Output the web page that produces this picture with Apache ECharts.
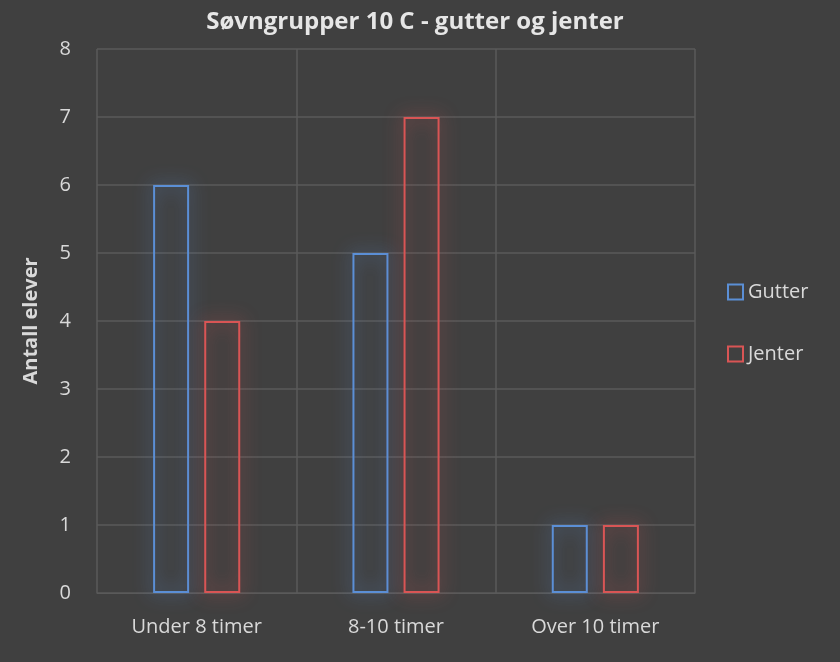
<!DOCTYPE html>
<html><head><meta charset="utf-8">
<script src="https://cdn.jsdelivr.net/npm/echarts@6/dist/echarts.min.js"></script>
<style>html,body{margin:0;background:#2b2b2b}#c{width:840px;height:662px;background:#404040;border-radius:0 12px 0 0}</style>
</head><body><div id="c"></div>
<script>
const categories = ['Under 8 timer', '8-10 timer', 'Over 10 timer'];
const gutter = [6, 5, 1];
const jenter = [4, 7, 1];
const yTicks = { min: 0, max: 8, interval: 1 };
const chart = echarts.init(document.getElementById('c'));
const font = 'Open Sans';
function ser(name, data, color) {
  return {
    name, type: 'bar', data, barWidth: 36, barGap: '42%',
    itemStyle: { color: 'rgba(0,0,0,0)', borderColor: color, borderWidth: 2,
      shadowColor: color, shadowBlur: 18 }
  };
}
chart.setOption({
  backgroundColor: '#404040',
  textStyle: { fontFamily: font },
  title: { text: 'Søvngrupper 10 C - gutter og jenter', left: 410, top: 5, textAlign: 'center',
    textStyle: { color: '#e6e6e6', fontSize: 24, fontWeight: 'bold', fontFamily: font } },
  legend: { orient: 'vertical', left: 722, top: 277, itemGap: 42, itemWidth: 15, itemHeight: 15,
    textStyle: { color: '#d9d9d9', fontSize: 20, fontFamily: font },
    data: [
      { name: 'Gutter', icon: 'rect', itemStyle: { color: 'rgba(0,0,0,0)', borderColor: '#5b8fd6', borderWidth: 2 } },
      { name: 'Jenter', icon: 'rect', itemStyle: { color: 'rgba(0,0,0,0)', borderColor: '#d95555', borderWidth: 2 } }
    ] },
  grid: { left: 97, right: 145, top: 49, bottom: 69 },
  xAxis: { type: 'category', data: categories,
    axisLine: { lineStyle: { color: '#5a5a5a' } }, axisTick: { show: false },
    axisLabel: { color: '#d9d9d9', fontSize: 20, margin: 24, fontFamily: font },
    splitLine: { show: true, lineStyle: { color: '#5a5a5a', width: 1.5 } } },
  yAxis: { type: 'value', min: yTicks.min, max: yTicks.max, interval: yTicks.interval,
    name: 'Antall elever', nameLocation: 'middle', nameGap: 56,
    nameTextStyle: { color: '#d9d9d9', fontSize: 20, fontWeight: 'bold', fontFamily: font },
    axisLabel: { color: '#d9d9d9', fontSize: 20, margin: 26, fontFamily: font },
    splitLine: { lineStyle: { color: '#5a5a5a', width: 1.5 } } },
  series: [ser('Gutter', gutter, '#5b8fd6'), ser('Jenter', jenter, '#d95555')]
});
</script></body></html>
